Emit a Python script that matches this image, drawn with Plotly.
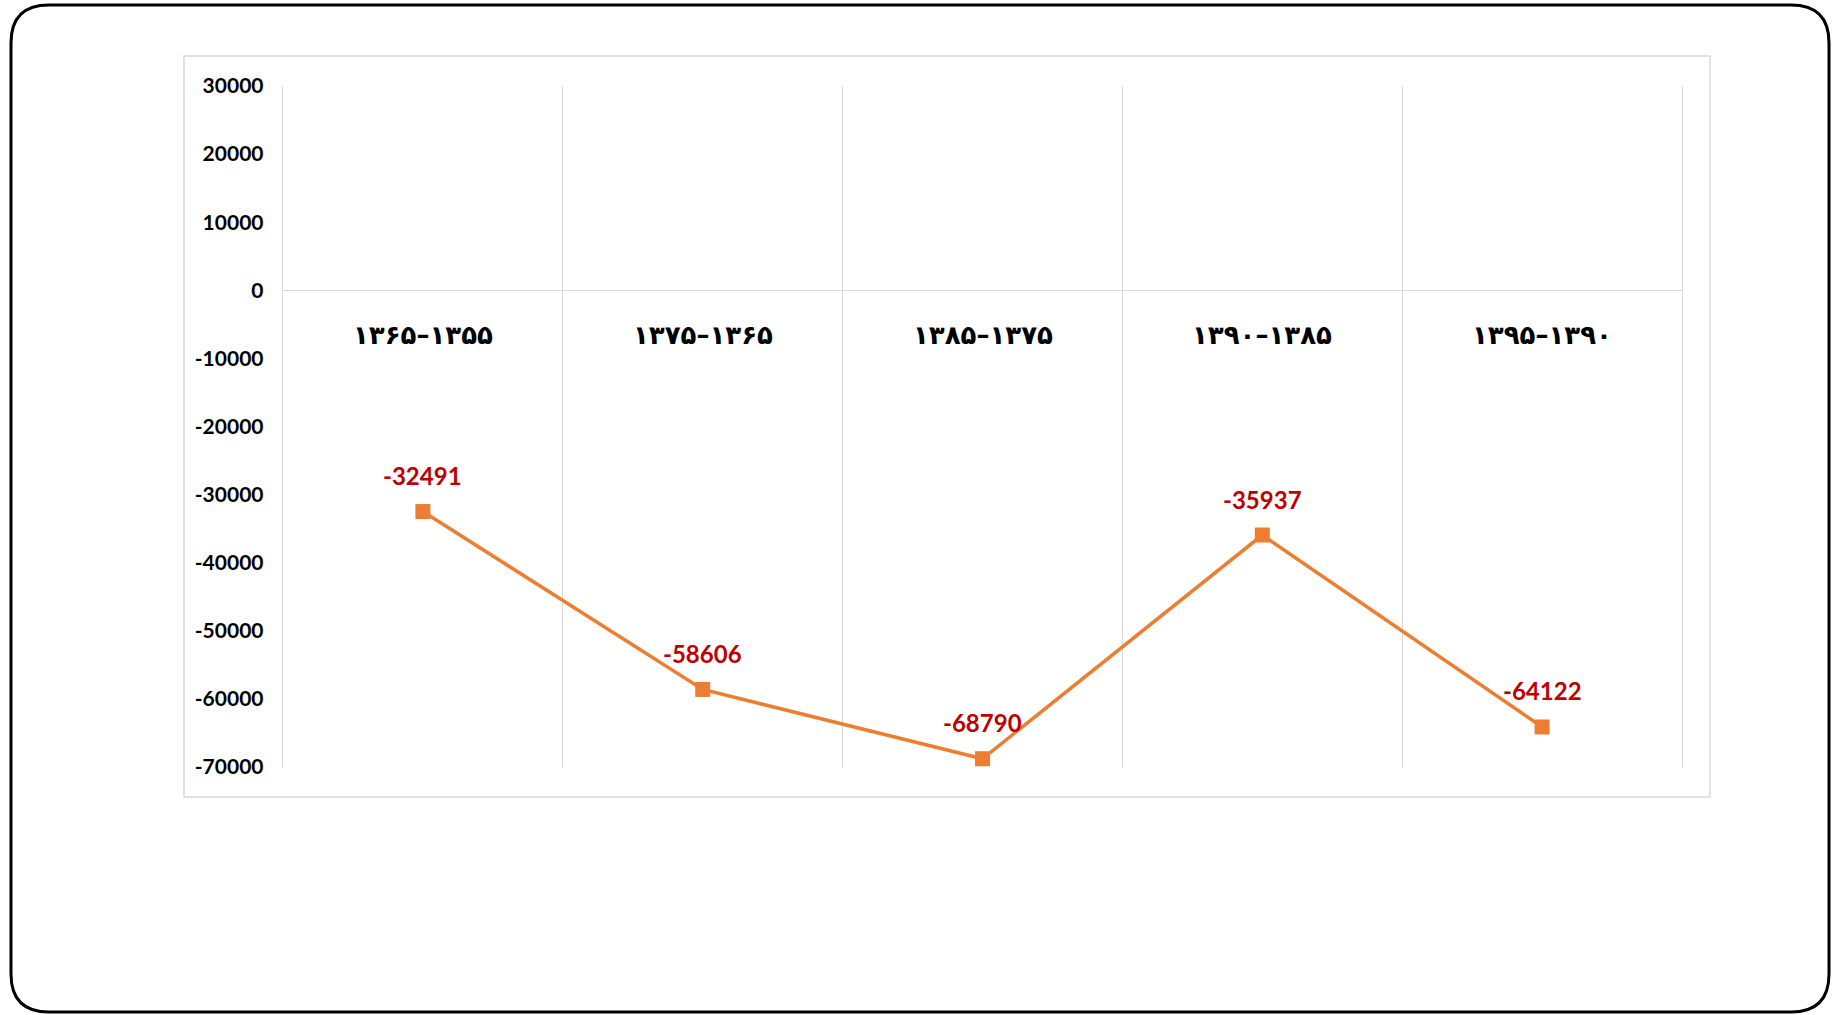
import plotly.graph_objects as go

# ---- data ----
categories = ["۱۳۶۵–۱۳۵۵", "۱۳۷۵–۱۳۶۵", "۱۳۸۵–۱۳۷۵", "۱۳۹۰–۱۳۸۵", "۱۳۹۵–۱۳۹۰"]
values = [-32491, -58606, -68790, -35937, -64122]
y_ticks = [30000, 20000, 10000, 0, -10000, -20000, -30000, -40000, -50000, -60000, -70000]

W, H = 1833, 1015
L, R, T, B = 283, 1682, 86, 767  # plot area in pixels
PW, PH = R - L, B - T


def px(x):
    return (x - L) / PW


def py(y):
    return (B - y) / PH


xs = list(range(len(categories)))

fig = go.Figure()
fig.add_trace(go.Scatter(
    x=xs, y=values, mode="lines+markers",
    line=dict(color="#ED7D31", width=3.5),
    marker=dict(symbol="square", size=15, color="#ED7D31"),
    hoverinfo="skip", showlegend=False,
))

annotations = []
for i, v in enumerate(values):
    annotations.append(dict(
        x=i, y=v, xref="x", yref="y", text=str(v), showarrow=False,
        yshift=36, font=dict(family="Lato", size=24, color="#C00000", weight="bold"),
    ))
for i, c in enumerate(categories):
    annotations.append(dict(
        x=i, y=0, xref="x", yref="y", text=c, showarrow=False,
        yshift=-45, font=dict(family="DejaVu Sans", size=26, color="#000000", weight="bold"),
    ))

# rounded outer frame
fx0, fx1, fy0, fy1, r = 11, 1829, 5, 1012, 38
path = (
    f"M {px(fx0 + r)},{py(fy0)} L {px(fx1 - r)},{py(fy0)} "
    f"Q {px(fx1)},{py(fy0)} {px(fx1)},{py(fy0 + r)} "
    f"L {px(fx1)},{py(fy1 - r)} Q {px(fx1)},{py(fy1)} {px(fx1 - r)},{py(fy1)} "
    f"L {px(fx0 + r)},{py(fy1)} Q {px(fx0)},{py(fy1)} {px(fx0)},{py(fy1 - r)} "
    f"L {px(fx0)},{py(fy0 + r)} Q {px(fx0)},{py(fy0)} {px(fx0 + r)},{py(fy0)} Z"
)
shapes = [
    dict(type="path", xref="paper", yref="paper", path=path,
         line=dict(color="#000000", width=3), layer="below"),
    dict(type="rect", xref="paper", yref="paper",
         x0=px(184), x1=px(1710), y0=py(797), y1=py(56),
         line=dict(color="#D9D9D9", width=1.5), layer="below"),
]

fig.update_layout(
    width=W, height=H,
    margin=dict(l=L, r=W - R, t=T, b=H - B, pad=0),
    paper_bgcolor="white", plot_bgcolor="white",
    annotations=annotations, shapes=shapes,
    xaxis=dict(
        range=[-0.5, len(categories) - 0.5],
        tickvals=[i - 0.5 for i in range(len(categories) + 1)],
        showticklabels=False, showgrid=True, gridcolor="#D9D9D9", gridwidth=1.3,
        zeroline=False, showline=False, ticks="",
    ),
    yaxis=dict(
        range=[min(y_ticks), max(y_ticks)],
        tickvals=y_ticks, ticktext=[str(t) for t in y_ticks],
        showgrid=False, zeroline=True, zerolinecolor="#D9D9D9", zerolinewidth=1.3,
        showline=True, linecolor="#D9D9D9", linewidth=1.3, mirror=True,
        ticks="", ticklabelstandoff=14,
        tickfont=dict(family="Lato", size=21, color="#000000", weight="bold"),
    ),
)

fig.write_html(
    "out.html",
    config={"displayModeBar": False, "staticPlot": True},
    post_script="document.body.style.margin='0';document.body.style.overflow='hidden';",
)
